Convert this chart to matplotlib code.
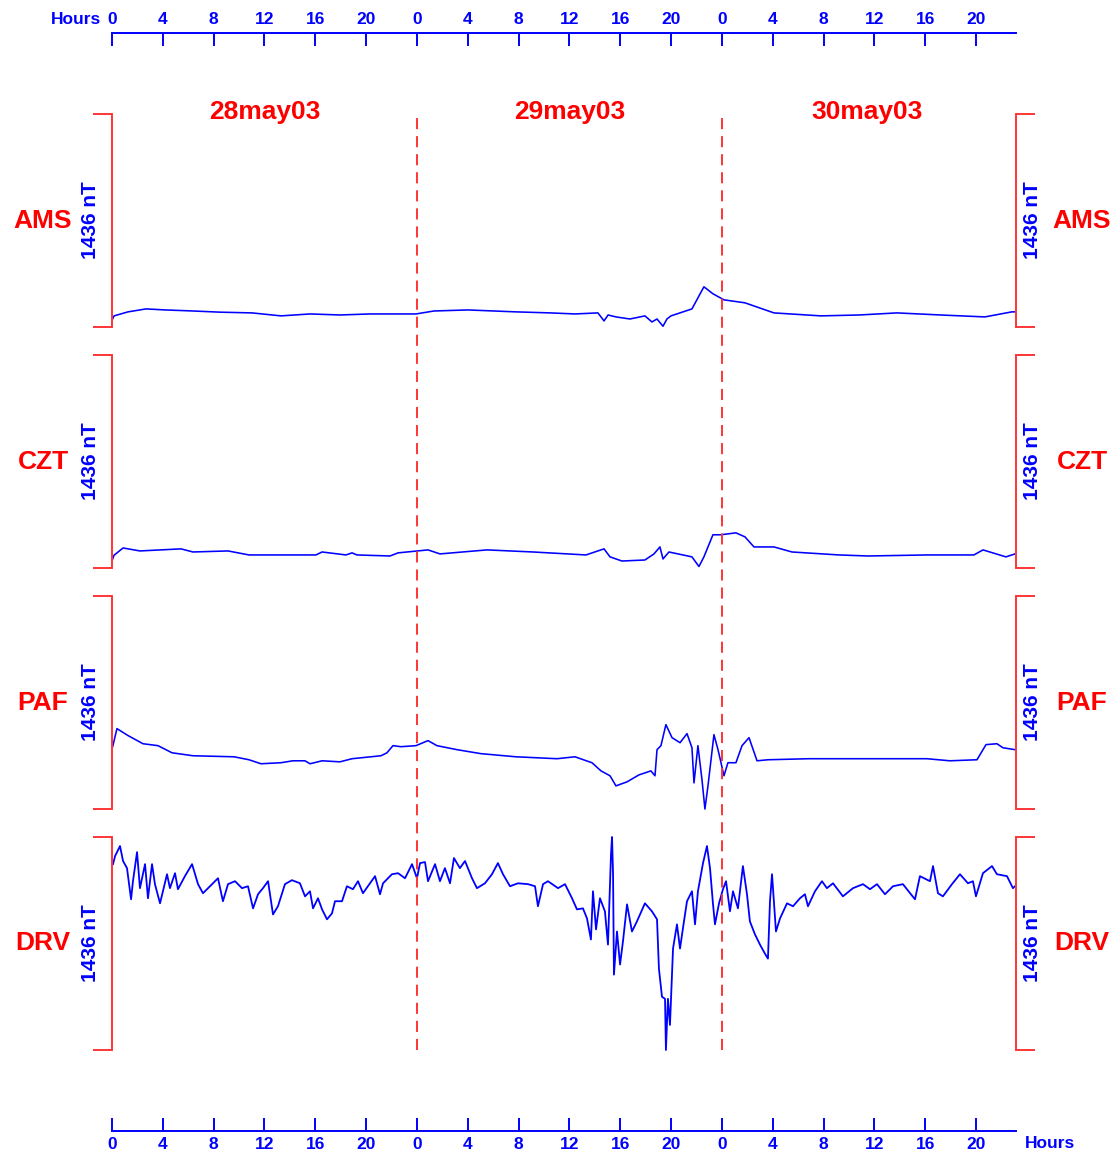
import matplotlib
matplotlib.use("Agg")
import matplotlib.pyplot as plt
from matplotlib.transforms import blended_transform_factory

plt.rcParams['font.family'] = ['Liberation Sans', 'DejaVu Sans']
plt.rcParams['font.weight'] = 'bold'
plt.rcParams['lines.scale_dashes'] = False

# ---- data (hours from 28may03 00:00, nT above panel baseline) ----
SCALE = 1436
days = ["28may03", "29may03", "30may03"]
day_label_hours = [12, 36, 59.4]
day_bounds = [24, 48]
tick_hours = list(range(0, 72, 4))
tick_labels = [str(h % 24) for h in tick_hours]

ams_hours = [0.05, 0.16, 1.26, 2.68, 4.2, 6.37, 8.5, 11.02, 13.30, 15.6, 17.94, 20.3, 23.92,
             25.34, 28.0, 31.79, 34.5, 36.43, 38.24, 38.72, 39.04, 39.66, 40.76, 41.94,
             42.49, 42.89, 43.36, 43.67, 43.99, 45.64, 46.58, 47.29, 48.16, 49.81, 52.09,
             55.79, 58.8, 61.77, 65.2, 68.69, 70.81, 71.1]
ams_nt = [55, 75, 102, 122, 115, 108, 100, 95, 75, 88, 81, 88, 88,
          108, 115, 102, 95, 88, 95, 41, 81, 68, 54, 75,
          34, 54, 5, 54, 75, 122, 271, 224, 183, 163, 95,
          75, 81, 95, 81, 68, 102, 102]

czt_hours = [0.05, 0.16, 0.87, 2.20, 5.43, 6.37, 9.13, 10.78, 16.05, 16.53, 18.41, 18.89, 19.28,
             21.88, 22.51, 24.87, 25.81, 29.51, 33.13, 37.30, 38.72, 39.19, 40.13, 41.94,
             42.65, 43.12, 43.36, 43.83, 45.64, 46.19, 46.58, 47.29, 47.92, 49.10, 49.81,
             50.52, 52.09, 53.51, 57.21, 59.49, 64.13, 67.83, 68.54, 70.35, 71.06]
czt_nt = [60, 86, 135, 115, 129, 108, 115, 88, 88, 108, 88, 102, 88,
          81, 102, 122, 95, 122, 108, 88, 129, 75, 47, 54,
          95, 142, 61, 108, 75, 10, 75, 224, 224, 237, 210,
          142, 142, 108, 88, 81, 88, 88, 122, 75, 95]

paf_hours = [0.05, 0.16, 0.39, 1.26, 2.44, 3.62, 4.72, 6.37, 9.60, 10.78, 11.72, 13.30, 14.24,
             15.19, 15.58, 16.53, 17.94, 18.89, 21.17, 21.64, 22.11, 22.74, 23.92, 24.87,
             25.57, 27.15, 29.04, 31.79, 35.02, 36.43, 37.77, 38.48, 39.19, 39.66, 40.53,
             41.47, 42.41, 42.73, 42.89, 43.20, 43.59, 44.07, 44.70, 45.25, 45.64, 45.80,
             46.11, 46.43, 46.66, 46.90, 47.37, 47.69, 48.16, 48.47, 49.10, 49.58, 50.13,
             50.76, 51.62, 54.85, 64.13, 65.94, 68.07, 68.78, 69.64, 70.11, 71.06]
paf_nt = [420, 459, 542, 495, 440, 427, 379, 359, 352, 332, 305, 312, 325,
          325, 305, 325, 318, 339, 359, 379, 427, 420, 427, 461,
          427, 400, 373, 352, 339, 352, 312, 257, 224, 156, 183,
          230, 257, 224, 400, 427, 569, 481, 447, 508, 413, 176,
          427, 196, 0, 156, 501, 400, 224, 312, 312, 427, 481,
          325, 332, 339, 339, 325, 332, 434, 440, 413, 400]

drv_hours = [0.08, 0.24, 0.63, 0.87, 1.18, 1.50, 1.65, 1.97, 2.20, 2.60, 2.83, 3.15, 3.38,
             3.78, 4.33, 4.56, 4.96, 5.19, 5.74, 6.30, 6.77, 7.16, 7.87, 8.34, 8.73, 9.13,
             9.68, 10.23, 10.70, 11.10, 11.49, 11.88, 12.28, 12.67, 13.06, 13.61, 14.16,
             14.79, 15.19, 15.58, 15.82, 16.21, 16.53, 16.92, 17.31, 17.55, 18.10, 18.49,
             18.96, 19.36, 19.75, 20.14, 20.70, 21.09, 21.33, 22.03, 22.51, 23.06, 23.61,
             24.00, 24.24, 24.63, 24.87, 25.42, 25.81, 26.20, 26.60, 26.91, 27.38, 27.78,
             28.33, 28.72, 29.35, 29.90, 30.37, 30.77, 31.32, 31.95, 32.74, 33.29, 33.52,
             33.92, 34.31, 35.10, 35.65, 36.20, 36.59, 37.06, 37.38, 37.69, 37.85, 38.09,
             38.40, 38.79, 39.03, 39.27, 39.35, 39.43, 39.50, 39.74, 39.98, 40.21, 40.53,
             40.92, 41.31, 41.55, 41.94, 42.49, 42.89, 43.04, 43.28, 43.52, 43.59, 43.75,
             43.91, 44.15, 44.46, 44.70, 45.01, 45.25, 45.64, 45.88, 46.11, 46.51, 46.82,
             47.06, 47.29, 47.45, 47.77, 48.08, 48.32, 48.63, 48.87, 49.26, 49.65, 49.97,
             50.20, 50.60, 50.99, 51.38, 51.62, 51.78, 51.94, 52.25, 52.57, 53.12, 53.59,
             54.14, 54.53, 54.77, 55.32, 55.87, 56.26, 56.74, 57.52, 58.31, 59.10, 59.65,
             60.20, 60.83, 61.46, 62.24, 63.19, 63.58, 64.37, 64.61, 65.00, 65.39, 66.10,
             66.73, 67.36, 67.75, 67.99, 68.54, 69.25, 69.64, 70.43, 70.90, 71.06]
drv_nt = [1253, 1307, 1375, 1274, 1226, 1016, 1138, 1334, 1091, 1253, 1023, 1253, 1118,
          989, 1185, 1091, 1192, 1084, 1172, 1253, 1118, 1057, 1118, 1158, 1003, 1118,
          1138, 1091, 1104, 955, 1050, 1091, 1138, 914, 969, 1118, 1145,
          1124, 1036, 1070, 955, 1023, 948, 881, 921, 1003, 1003, 1104,
          1084, 1138, 1057, 1104, 1172, 1050, 1124, 1185, 1192, 1158, 1253,
          1158, 1260, 1267, 1138, 1253, 1138, 1226, 1124, 1294, 1226, 1274,
          1158, 1091, 1124, 1185, 1260, 1185, 1104, 1124, 1118, 1104, 969,
          1118, 1138, 1091, 1118, 1023, 948, 955, 887, 745, 1070, 813,
          1023, 935, 711, 1321, 1436, 1185, 508, 799, 576, 732, 982,
          799, 867, 914, 989, 935, 881, 549, 359, 345, 0, 345,
          169, 684, 847, 684, 867, 1003, 1070, 847, 1070, 1260, 1375,
          1226, 989, 847, 989, 1084, 1138, 935, 1070, 955, 1240, 1050,
          867, 779, 711, 650, 616, 1003, 1185, 799, 887, 989, 969,
          1023, 1050, 969, 1070, 1138, 1091, 1124, 1036, 1091, 1118, 1084,
          1118, 1050, 1104, 1118, 1016, 1172, 1138, 1240, 1057, 1036, 1118,
          1185, 1124, 1138, 1036, 1192, 1240, 1185, 1172, 1091, 1104]

stations = [("AMS", ams_hours, ams_nt), ("CZT", czt_hours, czt_nt),
            ("PAF", paf_hours, paf_nt), ("DRV", drv_hours, drv_nt)]

# ---- layout ----
W, H = 1114, 1154
fig = plt.figure(figsize=(W / 100, H / 100), dpi=100)

def fx(px):
    return px / W

def fy(py):
    return 1 - py / H

RED = '#ff0000'
LRED = '#ff3535'
BLUE = '#0000ff'
XMAX = 71.14
L, AW = fx(112), fx(1016) - fx(112)
tops = [114, 355, 596, 837]
ph = 213

for (name, hrs, vals), top in zip(stations, tops):
    ax = fig.add_axes([L, fy(top + ph), AW, ph / H])
    ax.plot(hrs, vals, color=BLUE, lw=1.3 if name == "DRV" else 1.15, clip_on=False)
    ax.set_xlim(0, XMAX)
    ax.set_ylim(0, SCALE)
    ax.patch.set_visible(False)
    for s in ['top', 'bottom']:
        ax.spines[s].set_visible(False)
    for s in ['left', 'right']:
        ax.spines[s].set_color(LRED)
        ax.spines[s].set_linewidth(1.4)
    ax.set_xticks([])
    ax.set_yticks([0, SCALE])
    ax.tick_params(axis='y', left=True, right=True, direction='out', length=13.7,
                   width=1.4, color=LRED, labelleft=False, labelright=False)
    yc = fy(top + ph / 2)
    fig.text(fx(43), yc, name, color=RED, fontsize=19, ha='center', va='center')
    fig.text(fx(1082), yc, name, color=RED, fontsize=19, ha='center', va='center')
    fig.text(fx(91), yc, f"{SCALE} nT", color=BLUE, fontsize=15, rotation=90,
             ha='center', va='center')
    fig.text(fx(1032), yc, f"{SCALE} nT", color=BLUE, fontsize=15, rotation=90,
             ha='center', va='center')

# dashed day boundaries, drawn on top
axd = fig.add_axes([L, fy(1050), AW, (1050 - 114) / H])
axd.set_xlim(0, XMAX)
axd.set_ylim(0, 1)
axd.axis('off')
for d in day_bounds:
    axd.axvline(d, color=LRED, lw=1.4, linestyle=(0, (8, 5)))

tr = blended_transform_factory(axd.transData, fig.transFigure)
for h, lab in zip(day_label_hours, days):
    fig.text(h, fy(112), lab, transform=tr, color=RED, fontsize=19, ha='center', va='center')

# top hour axis
axt = fig.add_axes([L, fy(33), AW, 0.0001])
axt.set_xlim(0, XMAX)
for s in ['left', 'right', 'bottom']:
    axt.spines[s].set_visible(False)
axt.spines['top'].set_color(BLUE)
axt.spines['top'].set_linewidth(1.4)
axt.set_yticks([])
axt.xaxis.tick_top()
axt.set_xticks(tick_hours)
axt.set_xticklabels(tick_labels)
axt.tick_params(axis='x', direction='in', length=9.4, width=1.4, color=BLUE,
                labelcolor=BLUE, labelsize=12.5, pad=4)
fig.text(fx(101), fy(24), "Hours", color=BLUE, fontsize=12.5, ha='right', va='baseline')

# bottom hour axis
axb = fig.add_axes([L, fy(1131), AW, 0.0001])
axb.set_xlim(0, XMAX)
for s in ['left', 'right', 'top']:
    axb.spines[s].set_visible(False)
axb.spines['bottom'].set_color(BLUE)
axb.spines['bottom'].set_linewidth(1.4)
axb.set_yticks([])
axb.set_xticks(tick_hours)
axb.set_xticklabels(tick_labels)
axb.tick_params(axis='x', direction='in', length=9.4, width=1.4, color=BLUE,
                labelcolor=BLUE, labelsize=12.5, pad=4.5)
fig.text(fx(1025), fy(1144), "Hours", color=BLUE, fontsize=12.5, ha='left', va='center')

fig.savefig("out.png", dpi=100)
